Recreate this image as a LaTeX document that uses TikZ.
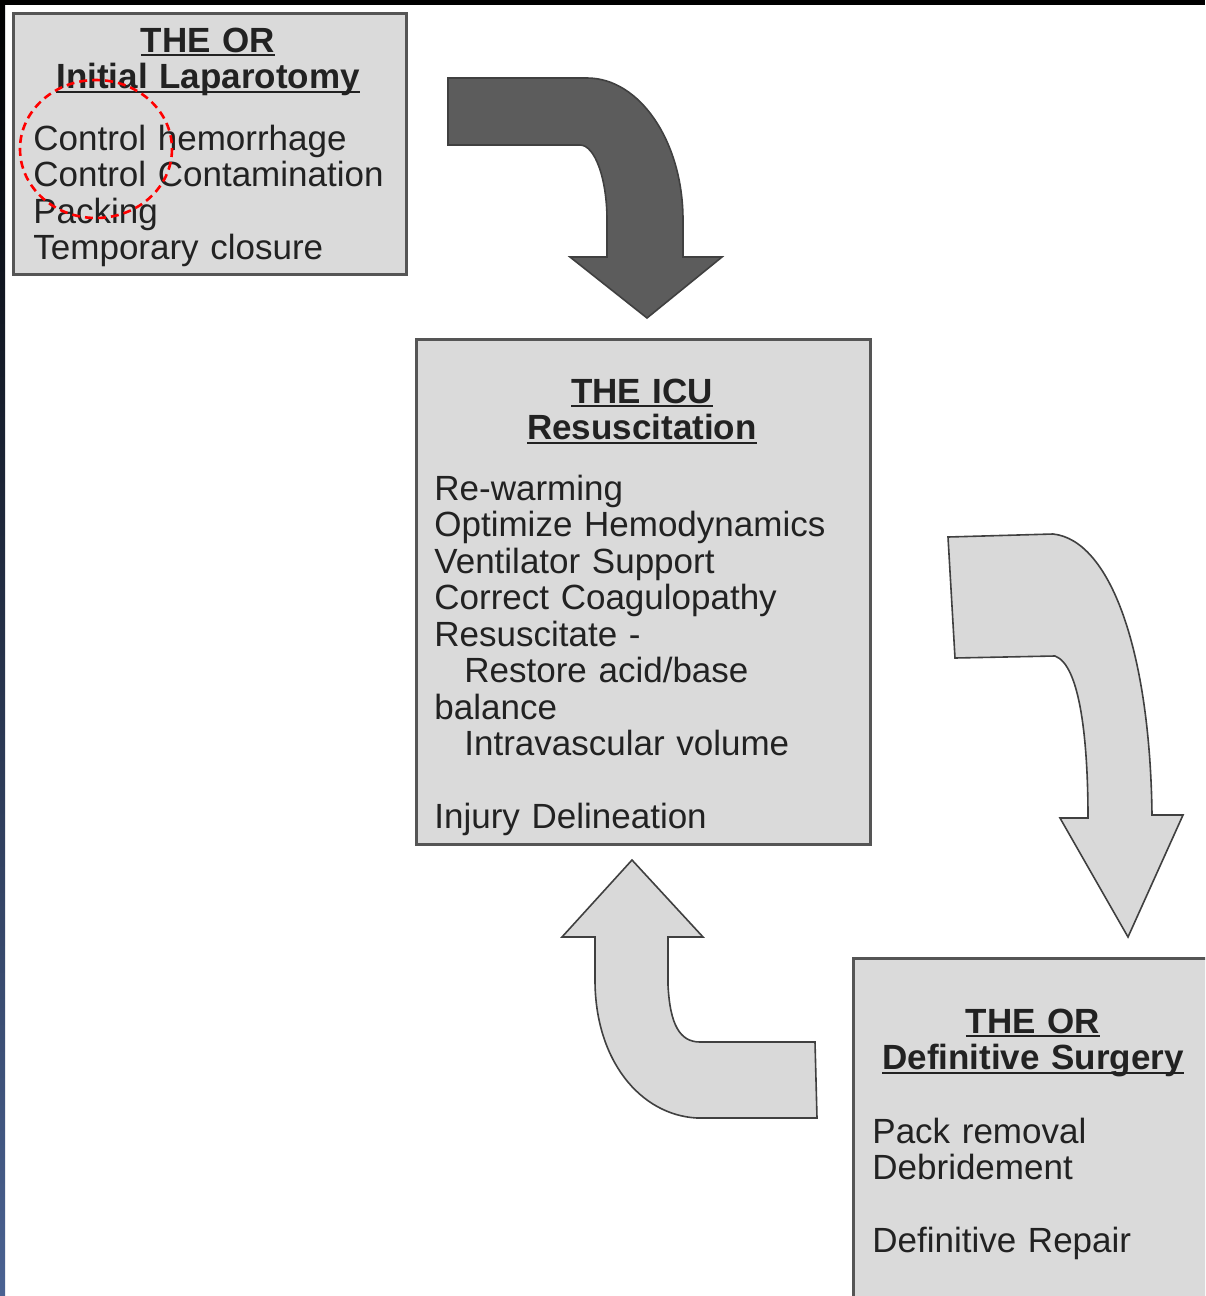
\documentclass[tikz,border=0pt]{standalone}
\usepackage{fontspec}
\setmainfont{Liberation Sans}
\usepackage{xcolor}
\definecolor{boxfill}{HTML}{DADADA}
\definecolor{boxline}{HTML}{555555}
\definecolor{inkgray}{HTML}{222222}
\definecolor{darkarrow}{HTML}{5C5C5C}
\definecolor{lightarrow}{HTML}{D9D9D9}
\definecolor{frameblue}{HTML}{4A6292}
\newcommand{\stagefont}{\fontsize{17.5}{18.25}\selectfont}
\newcommand{\headrule}[1]{\leavevmode\setbox0\hbox{#1}\rlap{\rule[-2.2pt]{\wd0}{1pt}}\box0}
\tikzstyle{stage} = [rectangle, anchor=north west, draw=boxline, line width=1.3pt, fill=boxfill]
\tikzstyle{heading} = [anchor=base, text width=220pt, align=center, inner sep=0pt, font=\stagefont\bfseries, text=inkgray]
\tikzstyle{tasks} = [anchor=base west, text width=210pt, align=left, inner sep=0pt, font=\stagefont, text=inkgray]
\tikzstyle{bigarrow} = [draw=black!75, line width=0.8pt, line join=miter]
\tikzstyle{markring} = [draw=red, line width=1.3pt, dash pattern=on 4pt off 2.5pt]

\begin{document}
\begin{tikzpicture}[x=0.5pt, y=-0.5pt]
        \useasboundingbox (0,0) rectangle (1205,1296);
        \clip (0,0) rectangle (1205,1296);
        \fill[white] (0,0) rectangle (1205,1296);
        \shade[top color=black, bottom color=frameblue] (0,0) rectangle (5,1296);
        \fill[black] (0,0) rectangle (1205,5);

        \node[stage, minimum width=196.5pt, minimum height=130.5pt] (initial) at (12,12) {};
        \node[heading] (initialhead) at (208,52) {\headrule{THE OR}\\\headrule{Initial Laparotomy}};
        \node[tasks] (initiallist) at (33,150) {Control hemorrhage\\Control Contamination\\Packing\\Temporary closure};

        \node[stage, minimum width=227pt, minimum height=252.5pt] (icu) at (415,338) {};
        \node[heading] (icuhead) at (642,403) {\headrule{THE ICU}\\\headrule{Resuscitation}};
        \node[tasks] (iculist) at (434,500) {Re-warming\\Optimize Hemodynamics\\Ventilator Support\\Correct Coagulopathy\\Resuscitate -\\\hspace*{15pt}Restore acid/base\\balance\\\hspace*{15pt}Intravascular volume\\[18.25pt]Injury Delineation};

        \node[stage, minimum width=190pt, minimum height=180pt] (definitive) at (852,957) {};
        \node[heading] (definitivehead) at (1033,1033) {\headrule{THE OR}\\\headrule{Definitive Surgery}};
        \node[tasks] (definitivelist) at (872,1143) {Pack removal\\Debridement\\[18.25pt]Definitive Repair};

        \filldraw[bigarrow, fill=darkarrow] (448,78) -- (587,78) .. controls (640,78) and (683,142) .. (683,220) -- (683,257) -- (722,257) -- (647,318) -- (570,257) -- (607,257) -- (607,220) .. controls (607,179) and (595,145) .. (580,145) -- (448,145) -- cycle;
        \filldraw[bigarrow, fill=lightarrow] (948,537) -- (1053,534) .. controls (1110,540) and (1150,650) .. (1152,815) -- (1183,815) -- (1128,937) -- (1060,818) -- (1088,818) .. controls (1088,740) and (1080,665) .. (1055,656) -- (955,658) -- cycle;
        \filldraw[bigarrow, fill=lightarrow] (632,860) -- (703,937) -- (668,937) -- (668,985) .. controls (670,1025) and (680,1042) .. (700,1042) -- (815,1042) -- (817,1118) -- (697,1118) .. controls (640,1115) and (595,1060) .. (595,980) -- (595,937) -- (562,937) -- cycle;

        \draw[markring] (96,149) ellipse [x radius=76, y radius=69];
    \end{tikzpicture}
\end{document}
